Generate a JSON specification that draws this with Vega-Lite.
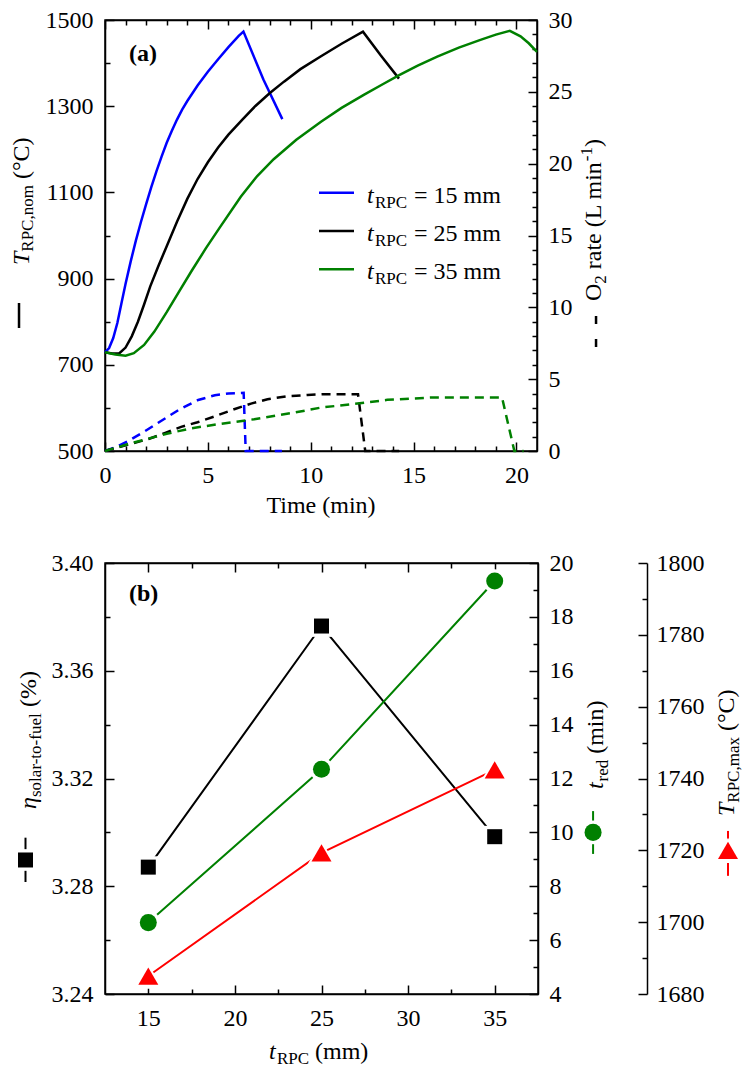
{
  "$schema": "https://vega.github.io/schema/vega-lite/v6.json",
  "padding": {"left": 9, "top": 7, "right": 5, "bottom": 5},
  "bounds": "flush",
  "spacing": 112,
  "config": {
    "view": {"stroke": "#000", "strokeWidth": 1.5},
    "axis": {"labelFont": "Liberation Serif", "labelFontSize": 24, "labelColor": "#000", "domainColor": "#000", "domainWidth": 1.5, "tickColor": "#000", "tickWidth": 1.5, "grid": false, "labelFlush": false, "labelOverlap": false, "labelBound": false},
    "text": {"font": "Liberation Serif", "fontSize": 24, "color": "#000", "baseline": "alphabetic", "align": "left"}
  },
  "datasets": {
    "one": [{}],
    "temp": [
      {"series": "15 mm", "time": 0, "T": 729}, {"series": "15 mm", "time": 0.2, "T": 739}, {"series": "15 mm", "time": 0.4, "T": 762}, {"series": "15 mm", "time": 0.6, "T": 797}, {"series": "15 mm", "time": 0.8, "T": 843}, {"series": "15 mm", "time": 1.0, "T": 888}, {"series": "15 mm", "time": 1.25, "T": 940}, {"series": "15 mm", "time": 1.5, "T": 988}, {"series": "15 mm", "time": 1.75, "T": 1032}, {"series": "15 mm", "time": 2.0, "T": 1073}, {"series": "15 mm", "time": 2.25, "T": 1112}, {"series": "15 mm", "time": 2.5, "T": 1149}, {"series": "15 mm", "time": 2.75, "T": 1183}, {"series": "15 mm", "time": 3.0, "T": 1215}, {"series": "15 mm", "time": 3.25, "T": 1243}, {"series": "15 mm", "time": 3.5, "T": 1269}, {"series": "15 mm", "time": 3.75, "T": 1292}, {"series": "15 mm", "time": 4.0, "T": 1312}, {"series": "15 mm", "time": 4.5, "T": 1348}, {"series": "15 mm", "time": 5.0, "T": 1380}, {"series": "15 mm", "time": 5.5, "T": 1409}, {"series": "15 mm", "time": 6.0, "T": 1437}, {"series": "15 mm", "time": 6.5, "T": 1463}, {"series": "15 mm", "time": 6.73, "T": 1473}, {"series": "15 mm", "time": 7.7, "T": 1362}, {"series": "15 mm", "time": 8.62, "T": 1270},
      {"series": "25 mm", "time": 0, "T": 729}, {"series": "25 mm", "time": 0.35, "T": 726}, {"series": "25 mm", "time": 0.7, "T": 727}, {"series": "25 mm", "time": 1.0, "T": 740}, {"series": "25 mm", "time": 1.3, "T": 766}, {"series": "25 mm", "time": 1.6, "T": 800}, {"series": "25 mm", "time": 1.9, "T": 840}, {"series": "25 mm", "time": 2.2, "T": 882}, {"series": "25 mm", "time": 2.6, "T": 930}, {"series": "25 mm", "time": 3.0, "T": 975}, {"series": "25 mm", "time": 3.5, "T": 1032}, {"series": "25 mm", "time": 4.0, "T": 1085}, {"series": "25 mm", "time": 4.5, "T": 1131}, {"series": "25 mm", "time": 5.0, "T": 1170}, {"series": "25 mm", "time": 5.5, "T": 1204}, {"series": "25 mm", "time": 6.0, "T": 1234}, {"series": "25 mm", "time": 6.7, "T": 1270}, {"series": "25 mm", "time": 7.3, "T": 1300}, {"series": "25 mm", "time": 8.0, "T": 1330}, {"series": "25 mm", "time": 8.7, "T": 1357}, {"series": "25 mm", "time": 9.5, "T": 1386}, {"series": "25 mm", "time": 10.5, "T": 1416}, {"series": "25 mm", "time": 11.5, "T": 1445}, {"series": "25 mm", "time": 12.54, "T": 1473}, {"series": "25 mm", "time": 13.4, "T": 1418}, {"series": "25 mm", "time": 14.29, "T": 1364},
      {"series": "35 mm", "time": 0, "T": 729}, {"series": "35 mm", "time": 0.5, "T": 724}, {"series": "35 mm", "time": 1.0, "T": 721}, {"series": "35 mm", "time": 1.4, "T": 727}, {"series": "35 mm", "time": 1.9, "T": 746}, {"series": "35 mm", "time": 2.4, "T": 777}, {"series": "35 mm", "time": 3.0, "T": 822}, {"series": "35 mm", "time": 3.6, "T": 870}, {"series": "35 mm", "time": 4.2, "T": 917}, {"series": "35 mm", "time": 4.9, "T": 970}, {"series": "35 mm", "time": 5.6, "T": 1020}, {"series": "35 mm", "time": 6.6, "T": 1090}, {"series": "35 mm", "time": 7.4, "T": 1138}, {"series": "35 mm", "time": 8.2, "T": 1177}, {"series": "35 mm", "time": 9.3, "T": 1222}, {"series": "35 mm", "time": 10.5, "T": 1264}, {"series": "35 mm", "time": 11.5, "T": 1296}, {"series": "35 mm", "time": 12.6, "T": 1327}, {"series": "35 mm", "time": 13.5, "T": 1351}, {"series": "35 mm", "time": 14.3, "T": 1372}, {"series": "35 mm", "time": 15.2, "T": 1394}, {"series": "35 mm", "time": 16.15, "T": 1415}, {"series": "35 mm", "time": 17.2, "T": 1436}, {"series": "35 mm", "time": 18.25, "T": 1454}, {"series": "35 mm", "time": 19.0, "T": 1466}, {"series": "35 mm", "time": 19.68, "T": 1475}, {"series": "35 mm", "time": 20.2, "T": 1462}, {"series": "35 mm", "time": 20.6, "T": 1446}, {"series": "35 mm", "time": 21.0, "T": 1426}
    ],
    "o2": [
      {"series": "15 mm", "time": 0, "rate": 0}, {"series": "15 mm", "time": 0.5, "rate": 0.25}, {"series": "15 mm", "time": 1.14, "rate": 0.7}, {"series": "15 mm", "time": 1.91, "rate": 1.35}, {"series": "15 mm", "time": 2.8, "rate": 2.16}, {"series": "15 mm", "time": 3.64, "rate": 2.91}, {"series": "15 mm", "time": 4.53, "rate": 3.55}, {"series": "15 mm", "time": 5.34, "rate": 3.88}, {"series": "15 mm", "time": 6.0, "rate": 4.0}, {"series": "15 mm", "time": 6.74, "rate": 4.05}, {"series": "15 mm", "time": 6.84, "rate": 0}, {"series": "15 mm", "time": 8.6, "rate": 0},
      {"series": "25 mm", "time": 0, "rate": 0}, {"series": "25 mm", "time": 1.0, "rate": 0.4}, {"series": "25 mm", "time": 2.15, "rate": 0.85}, {"series": "25 mm", "time": 2.96, "rate": 1.28}, {"series": "25 mm", "time": 3.7, "rate": 1.68}, {"series": "25 mm", "time": 4.5, "rate": 2.0}, {"series": "25 mm", "time": 5.39, "rate": 2.44}, {"series": "25 mm", "time": 6.28, "rate": 2.91}, {"series": "25 mm", "time": 7.1, "rate": 3.3}, {"series": "25 mm", "time": 7.9, "rate": 3.6}, {"series": "25 mm", "time": 8.8, "rate": 3.8}, {"series": "25 mm", "time": 9.84, "rate": 3.9}, {"series": "25 mm", "time": 10.6, "rate": 3.95}, {"series": "25 mm", "time": 12.3, "rate": 3.95}, {"series": "25 mm", "time": 12.65, "rate": 0}, {"series": "25 mm", "time": 14.3, "rate": 0},
      {"series": "35 mm", "time": 0, "rate": 0}, {"series": "35 mm", "time": 1.1, "rate": 0.47}, {"series": "35 mm", "time": 2.0, "rate": 0.82}, {"series": "35 mm", "time": 3.0, "rate": 1.2}, {"series": "35 mm", "time": 4.2, "rate": 1.58}, {"series": "35 mm", "time": 5.47, "rate": 1.86}, {"series": "35 mm", "time": 7.25, "rate": 2.21}, {"series": "35 mm", "time": 9.19, "rate": 2.67}, {"series": "35 mm", "time": 10.49, "rate": 3.02}, {"series": "35 mm", "time": 12.27, "rate": 3.3}, {"series": "35 mm", "time": 13.72, "rate": 3.56}, {"series": "35 mm", "time": 15.83, "rate": 3.72}, {"series": "35 mm", "time": 19.3, "rate": 3.72}, {"series": "35 mm", "time": 19.9, "rate": 0}, {"series": "35 mm", "time": 20.35, "rate": 0}
    ],
    "eff": [
      {"t_rpc": 15, "eta": 3.2871, "t_red": 6.65, "T_max": 1685.0},
      {"t_rpc": 25, "eta": 3.3766, "t_red": 12.34, "T_max": 1719.3},
      {"t_rpc": 35, "eta": 3.2984, "t_red": 19.33, "T_max": 1742.4}
    ]
  },
  "vconcat": [
    {
      "width": 432,
      "height": 431,
      "layer": [
        {
          "data": {"name": "temp"},
          "mark": {"type": "line", "strokeWidth": 2.5},
          "encoding": {
            "x": {"field": "time", "type": "quantitative", "scale": {"domain": [0, 21], "nice": false, "zero": false},
              "axis": {"orient": "bottom", "title": null, "values": [0,1,2,3,4,5,6,7,8,9,10,11,12,13,14,15,16,17,18,19,20], "labelExpr": "datum.value % 5 === 0 ? datum.label : ''", "tickSize": -9, "tickDash": {"condition": {"test": "datum.value % 5 === 0", "value": [9, 0]}, "value": [5, 20]}, "labelPadding": 21}},
            "y": {"field": "T", "type": "quantitative", "scale": {"domain": [500, 1500], "nice": false, "zero": false},
              "axis": {"orient": "left", "title": null, "values": [500,600,700,800,900,1000,1100,1200,1300,1400,1500], "format": "d", "labelExpr": "(datum.value - 500) % 200 === 0 ? datum.label : ''", "tickSize": -9, "tickDash": {"condition": {"test": "(datum.value - 500) % 200 === 0", "value": [9, 0]}, "value": [5, 20]}, "labelPadding": 21}},
            "color": {"field": "series", "type": "nominal", "scale": {"domain": ["15 mm", "25 mm", "35 mm"], "range": ["#0000ff", "#000000", "#008000"]}, "legend": null}
          }
        },
        {
          "data": {"name": "o2"},
          "mark": {"type": "line", "strokeWidth": 2.5, "strokeDash": [9, 6]},
          "encoding": {
            "x": {"field": "time", "type": "quantitative", "scale": {"domain": [0, 21], "nice": false, "zero": false},
              "axis": {"orient": "top", "title": null, "values": [0,1,2,3,4,5,6,7,8,9,10,11,12,13,14,15,16,17,18,19,20], "labels": false, "tickSize": -9, "tickDash": {"condition": {"test": "datum.value % 5 === 0", "value": [9, 0]}, "value": [5, 20]}}},
            "y": {"field": "rate", "type": "quantitative", "scale": {"domain": [0, 30], "nice": false, "zero": false},
              "axis": {"orient": "right", "title": null, "values": [0,1,2,3,4,5,6,7,8,9,10,11,12,13,14,15,16,17,18,19,20,21,22,23,24,25,26,27,28,29,30], "labelExpr": "datum.value % 5 === 0 ? datum.label : ''", "tickSize": -9, "tickDash": {"condition": {"test": "datum.value % 5 === 0", "value": [9, 0]}, "value": [5, 20]}, "labelPadding": 20}},
            "color": {"field": "series", "type": "nominal", "legend": null}
          }
        },
        {"data": {"name": "one"}, "mark": {"type": "rule", "strokeWidth": 2.5, "color": "#0000ff"}, "encoding": {"x": {"datum": 10.403, "axis": null}, "x2": {"datum": 12.104}, "y": {"datum": 1099.3, "axis": null, "scale": {"domain": [500, 1500], "nice": false, "zero": false}}}},
        {"data": {"name": "one"}, "mark": {"type": "rule", "strokeWidth": 2.5, "color": "#000000"}, "encoding": {"x": {"datum": 10.403, "axis": null}, "x2": {"datum": 12.104}, "y": {"datum": 1010.4, "axis": null, "scale": {"domain": [500, 1500], "nice": false, "zero": false}}}},
        {"data": {"name": "one"}, "mark": {"type": "rule", "strokeWidth": 2.5, "color": "#008000"}, "encoding": {"x": {"datum": 10.403, "axis": null}, "x2": {"datum": 12.104}, "y": {"datum": 921.6, "axis": null, "scale": {"domain": [500, 1500], "nice": false, "zero": false}}}},
        {"data": {"name": "one"}, "mark": {"type": "text", "text": "t", "fontStyle": "italic", "dy": 10}, "encoding": {"x": {"datum": 12.736, "axis": null}, "y": {"datum": 1099.3, "axis": null, "scale": {"domain": [500, 1500], "nice": false, "zero": false}}}},
        {"data": {"name": "one"}, "mark": {"type": "text", "text": "RPC", "fontSize": 17, "dx": 8, "dy": 15}, "encoding": {"x": {"datum": 12.736, "axis": null}, "y": {"datum": 1099.3, "axis": null, "scale": {"domain": [500, 1500], "nice": false, "zero": false}}}},
        {"data": {"name": "one"}, "mark": {"type": "text", "text": "= 15 mm", "dx": 47, "dy": 10}, "encoding": {"x": {"datum": 12.736, "axis": null}, "y": {"datum": 1099.3, "axis": null, "scale": {"domain": [500, 1500], "nice": false, "zero": false}}}},
        {"data": {"name": "one"}, "mark": {"type": "text", "text": "t", "fontStyle": "italic", "dy": 10}, "encoding": {"x": {"datum": 12.736, "axis": null}, "y": {"datum": 1010.4, "axis": null, "scale": {"domain": [500, 1500], "nice": false, "zero": false}}}},
        {"data": {"name": "one"}, "mark": {"type": "text", "text": "RPC", "fontSize": 17, "dx": 8, "dy": 15}, "encoding": {"x": {"datum": 12.736, "axis": null}, "y": {"datum": 1010.4, "axis": null, "scale": {"domain": [500, 1500], "nice": false, "zero": false}}}},
        {"data": {"name": "one"}, "mark": {"type": "text", "text": "= 25 mm", "dx": 47, "dy": 10}, "encoding": {"x": {"datum": 12.736, "axis": null}, "y": {"datum": 1010.4, "axis": null, "scale": {"domain": [500, 1500], "nice": false, "zero": false}}}},
        {"data": {"name": "one"}, "mark": {"type": "text", "text": "t", "fontStyle": "italic", "dy": 10}, "encoding": {"x": {"datum": 12.736, "axis": null}, "y": {"datum": 921.6, "axis": null, "scale": {"domain": [500, 1500], "nice": false, "zero": false}}}},
        {"data": {"name": "one"}, "mark": {"type": "text", "text": "RPC", "fontSize": 17, "dx": 8, "dy": 15}, "encoding": {"x": {"datum": 12.736, "axis": null}, "y": {"datum": 921.6, "axis": null, "scale": {"domain": [500, 1500], "nice": false, "zero": false}}}},
        {"data": {"name": "one"}, "mark": {"type": "text", "text": "= 35 mm", "dx": 47, "dy": 10}, "encoding": {"x": {"datum": 12.736, "axis": null}, "y": {"datum": 921.6, "axis": null, "scale": {"domain": [500, 1500], "nice": false, "zero": false}}}},
        {"data": {"name": "one"}, "mark": {"type": "text", "text": "(a)", "fontWeight": "bold"}, "encoding": {"x": {"datum": 1.167, "axis": null}, "y": {"datum": 1404.9, "axis": null, "scale": {"domain": [500, 1500], "nice": false, "zero": false}}}},
        {"data": {"name": "one"}, "mark": {"type": "text", "text": "Time (min)", "align": "center"}, "encoding": {"x": {"datum": 10.5, "axis": null}, "y": {"datum": 357, "axis": null, "scale": {"domain": [500, 1500], "nice": false, "zero": false}}}},
        {"data": {"name": "one"}, "mark": {"type": "rule", "strokeWidth": 2.5, "color": "#000"}, "encoding": {"x": {"datum": -4.18, "axis": null}, "y": {"datum": 843.4, "axis": null, "scale": {"domain": [500, 1500], "nice": false, "zero": false}}, "y2": {"datum": 785.4}}},
        {"data": {"name": "one"}, "mark": {"type": "text", "text": "T", "angle": 270, "fontStyle": "italic"}, "encoding": {"x": {"datum": -3.695, "axis": null}, "y": {"datum": 931.6, "axis": null, "scale": {"domain": [500, 1500], "nice": false, "zero": false}}}},
        {"data": {"name": "one"}, "mark": {"type": "text", "text": "RPC,nom", "angle": 270, "fontSize": 17, "dx": 13.3, "dy": 4}, "encoding": {"x": {"datum": -3.695, "axis": null}, "y": {"datum": 931.6, "axis": null, "scale": {"domain": [500, 1500], "nice": false, "zero": false}}}},
        {"data": {"name": "one"}, "mark": {"type": "text", "text": "(°C)", "angle": 270, "dx": 85.9}, "encoding": {"x": {"datum": -3.695, "axis": null}, "y": {"datum": 931.6, "axis": null, "scale": {"domain": [500, 1500], "nice": false, "zero": false}}}},
        {"data": {"name": "one"}, "mark": {"type": "rule", "strokeWidth": 2.5, "color": "#000", "strokeDash": [8, 15]}, "encoding": {"x": {"datum": 23.87, "axis": null}, "y": {"datum": 9.40, "axis": null, "scale": {"domain": [0, 30], "nice": false, "zero": false}}, "y2": {"datum": 7.17}}},
        {"data": {"name": "one"}, "mark": {"type": "text", "text": "O", "angle": 270}, "encoding": {"x": {"datum": 24.112, "axis": null}, "y": {"datum": 10.44, "axis": null, "scale": {"domain": [0, 30], "nice": false, "zero": false}}}},
        {"data": {"name": "one"}, "mark": {"type": "text", "text": "2", "angle": 270, "fontSize": 17, "dx": 17.3, "dy": 5}, "encoding": {"x": {"datum": 24.112, "axis": null}, "y": {"datum": 10.44, "axis": null, "scale": {"domain": [0, 30], "nice": false, "zero": false}}}},
        {"data": {"name": "one"}, "mark": {"type": "text", "text": "rate (L min", "angle": 270, "dx": 31.8}, "encoding": {"x": {"datum": 24.112, "axis": null}, "y": {"datum": 10.44, "axis": null, "scale": {"domain": [0, 30], "nice": false, "zero": false}}}},
        {"data": {"name": "one"}, "mark": {"type": "text", "text": "-1", "angle": 270, "fontSize": 17, "dx": 139.8, "dy": -9}, "encoding": {"x": {"datum": 24.112, "axis": null}, "y": {"datum": 10.44, "axis": null, "scale": {"domain": [0, 30], "nice": false, "zero": false}}}},
        {"data": {"name": "one"}, "mark": {"type": "text", "text": ")", "angle": 270, "dx": 154}, "encoding": {"x": {"datum": 24.112, "axis": null}, "y": {"datum": 10.44, "axis": null, "scale": {"domain": [0, 30], "nice": false, "zero": false}}}}
      ],
      "resolve": {"scale": {"y": "independent"}, "axis": {"x": "independent", "y": "independent"}}
    },
    {
      "width": 433,
      "height": 431,
      "layer": [
        {
          "data": {"name": "eff"},
          "mark": {"type": "line", "strokeWidth": 2, "color": "#000"},
          "encoding": {
            "x": {"field": "t_rpc", "type": "quantitative", "scale": {"domain": [12.5, 37.5], "nice": false, "zero": false},
              "axis": {"orient": "bottom", "title": null, "values": [15, 17.5, 20, 22.5, 25, 27.5, 30, 32.5, 35], "labelExpr": "datum.value % 5 === 0 ? datum.label : ''", "tickSize": -9, "tickDash": {"condition": {"test": "datum.value % 5 === 0", "value": [9, 0]}, "value": [5, 20]}, "labelPadding": 21}},
            "y": {"field": "eta", "type": "quantitative", "scale": {"domain": [3.24, 3.40], "nice": false, "zero": false},
              "axis": {"orient": "left", "title": null, "values": [3.24, 3.26, 3.28, 3.30, 3.32, 3.34, 3.36, 3.38, 3.40], "format": ".2f", "labelExpr": "round(datum.value * 100) % 4 === 0 ? datum.label : ''", "tickSize": -9, "tickDash": {"condition": {"test": "round(datum.value * 100) % 4 === 0", "value": [9, 0]}, "value": [5, 20]}, "labelPadding": 21}}
          }
        },
        {
          "data": {"name": "eff"},
          "mark": {"type": "line", "strokeWidth": 2, "color": "#008000"},
          "encoding": {
            "x": {"field": "t_rpc", "type": "quantitative", "scale": {"domain": [12.5, 37.5], "nice": false, "zero": false},
              "axis": {"orient": "top", "title": null, "values": [15, 17.5, 20, 22.5, 25, 27.5, 30, 32.5, 35], "labels": false, "tickSize": -9, "tickDash": {"condition": {"test": "datum.value % 5 === 0", "value": [9, 0]}, "value": [5, 20]}}},
            "y": {"field": "t_red", "type": "quantitative", "scale": {"domain": [4, 20], "nice": false, "zero": false},
              "axis": {"orient": "right", "title": null, "values": [4,5,6,7,8,9,10,11,12,13,14,15,16,17,18,19,20], "labelExpr": "datum.value % 2 === 0 ? datum.label : ''", "tickSize": -9, "tickDash": {"condition": {"test": "datum.value % 2 === 0", "value": [9, 0]}, "value": [5, 20]}, "labelPadding": 20}}
          }
        },
        {
          "data": {"name": "eff"},
          "mark": {"type": "line", "strokeWidth": 2, "color": "#ff0000"},
          "encoding": {
            "x": {"field": "t_rpc", "type": "quantitative", "axis": null},
            "y": {"field": "T_max", "type": "quantitative", "scale": {"domain": [1680, 1800], "nice": false, "zero": false},
              "axis": {"orient": "right", "offset": 109, "title": null, "values": [1680,1690,1700,1710,1720,1730,1740,1750,1760,1770,1780,1790,1800], "format": "d", "labelExpr": "datum.value % 20 === 0 ? datum.label : ''", "tickSize": -9, "tickDash": {"condition": {"test": "datum.value % 20 === 0", "value": [9, 0]}, "value": [5, 20]}, "labelPadding": 18}}
          }
        },
        {"data": {"name": "eff"}, "mark": {"type": "point", "shape": "square", "filled": true, "opacity": 1, "size": 470, "color": "#fff"}, "encoding": {"x": {"field": "t_rpc", "type": "quantitative", "axis": null}, "y": {"field": "eta", "type": "quantitative", "axis": null, "scale": {"domain": [3.24, 3.40], "nice": false, "zero": false}}}},
        {"data": {"name": "eff"}, "mark": {"type": "point", "shape": "square", "filled": true, "opacity": 1, "size": 225, "color": "#000"}, "encoding": {"x": {"field": "t_rpc", "type": "quantitative", "axis": null}, "y": {"field": "eta", "type": "quantitative", "axis": null, "scale": {"domain": [3.24, 3.40], "nice": false, "zero": false}}}},
        {"data": {"name": "eff"}, "mark": {"type": "point", "shape": "circle", "filled": true, "opacity": 1, "size": 560, "color": "#fff"}, "encoding": {"x": {"field": "t_rpc", "type": "quantitative", "axis": null}, "y": {"field": "t_red", "type": "quantitative", "axis": null, "scale": {"domain": [4, 20], "nice": false, "zero": false}}}},
        {"data": {"name": "eff"}, "mark": {"type": "point", "shape": "circle", "filled": true, "opacity": 1, "size": 290, "color": "#008000"}, "encoding": {"x": {"field": "t_rpc", "type": "quantitative", "axis": null}, "y": {"field": "t_red", "type": "quantitative", "axis": null, "scale": {"domain": [4, 20], "nice": false, "zero": false}}}},
        {"data": {"name": "eff"}, "mark": {"type": "point", "shape": "triangle-up", "filled": true, "opacity": 1, "size": 850, "color": "#fff"}, "encoding": {"x": {"field": "t_rpc", "type": "quantitative", "axis": null}, "y": {"field": "T_max", "type": "quantitative", "axis": null, "scale": {"domain": [1680, 1800], "nice": false, "zero": false}}}},
        {"data": {"name": "eff"}, "mark": {"type": "point", "shape": "triangle-up", "filled": true, "opacity": 1, "size": 400, "color": "#ff0000"}, "encoding": {"x": {"field": "t_rpc", "type": "quantitative", "axis": null}, "y": {"field": "T_max", "type": "quantitative", "axis": null, "scale": {"domain": [1680, 1800], "nice": false, "zero": false}}}},
        {"data": {"name": "one"}, "mark": {"type": "text", "text": "(b)", "fontWeight": "bold"}, "encoding": {"x": {"datum": 13.886, "axis": null}, "y": {"datum": 3.3859, "axis": null, "scale": {"domain": [3.24, 3.40], "nice": false, "zero": false}}}},
        {"data": {"name": "one"}, "mark": {"type": "text", "text": "t", "fontStyle": "italic"}, "encoding": {"x": {"datum": 21.969, "axis": null}, "y": {"datum": 3.21587, "axis": null, "scale": {"domain": [3.24, 3.40], "nice": false, "zero": false}}}},
        {"data": {"name": "one"}, "mark": {"type": "text", "text": "RPC", "fontSize": 17, "dx": 8, "dy": 5}, "encoding": {"x": {"datum": 21.969, "axis": null}, "y": {"datum": 3.21587, "axis": null, "scale": {"domain": [3.24, 3.40], "nice": false, "zero": false}}}},
        {"data": {"name": "one"}, "mark": {"type": "text", "text": "(mm)", "dx": 46}, "encoding": {"x": {"datum": 21.969, "axis": null}, "y": {"datum": 3.21587, "axis": null, "scale": {"domain": [3.24, 3.40], "nice": false, "zero": false}}}},
        {"data": {"name": "one"}, "mark": {"type": "rule", "strokeWidth": 2, "color": "#000"}, "encoding": {"x": {"datum": 7.91, "axis": null}, "y": {"datum": 3.29803, "axis": null, "scale": {"domain": [3.24, 3.40], "nice": false, "zero": false}}, "y2": {"datum": 3.28158}}},
        {"data": {"name": "one"}, "mark": {"type": "point", "shape": "square", "filled": true, "opacity": 1, "size": 470, "color": "#fff"}, "encoding": {"x": {"datum": 7.91, "axis": null}, "y": {"datum": 3.28975, "axis": null, "scale": {"domain": [3.24, 3.40], "nice": false, "zero": false}}}},
        {"data": {"name": "one"}, "mark": {"type": "point", "shape": "square", "filled": true, "opacity": 1, "size": 225, "color": "#000"}, "encoding": {"x": {"datum": 7.91, "axis": null}, "y": {"datum": 3.28975, "axis": null, "scale": {"domain": [3.24, 3.40], "nice": false, "zero": false}}}},
        {"data": {"name": "one"}, "mark": {"type": "text", "text": "η", "angle": 270, "fontStyle": "italic"}, "encoding": {"x": {"datum": 8.516, "axis": null}, "y": {"datum": 3.30868, "axis": null, "scale": {"domain": [3.24, 3.40], "nice": false, "zero": false}}}},
        {"data": {"name": "one"}, "mark": {"type": "text", "text": "solar-to-fuel", "angle": 270, "fontSize": 17, "dx": 12, "dy": 5}, "encoding": {"x": {"datum": 8.516, "axis": null}, "y": {"datum": 3.30868, "axis": null, "scale": {"domain": [3.24, 3.40], "nice": false, "zero": false}}}},
        {"data": {"name": "one"}, "mark": {"type": "text", "text": "(%)", "angle": 270, "dx": 102}, "encoding": {"x": {"datum": 8.516, "axis": null}, "y": {"datum": 3.30868, "axis": null, "scale": {"domain": [3.24, 3.40], "nice": false, "zero": false}}}},
        {"data": {"name": "one"}, "mark": {"type": "rule", "strokeWidth": 2, "color": "#008000"}, "encoding": {"x": {"datum": 40.68, "axis": null}, "y": {"datum": 10.79, "axis": null, "scale": {"domain": [4, 20], "nice": false, "zero": false}}, "y2": {"datum": 9.2}}},
        {"data": {"name": "one"}, "mark": {"type": "point", "shape": "circle", "filled": true, "opacity": 1, "size": 560, "color": "#fff"}, "encoding": {"x": {"datum": 40.68, "axis": null}, "y": {"datum": 10.0, "axis": null, "scale": {"domain": [4, 20], "nice": false, "zero": false}}}},
        {"data": {"name": "one"}, "mark": {"type": "point", "shape": "circle", "filled": true, "opacity": 1, "size": 290, "color": "#008000"}, "encoding": {"x": {"datum": 40.68, "axis": null}, "y": {"datum": 10.0, "axis": null, "scale": {"domain": [4, 20], "nice": false, "zero": false}}}},
        {"data": {"name": "one"}, "mark": {"type": "text", "text": "t", "angle": 270, "fontStyle": "italic"}, "encoding": {"x": {"datum": 41.253, "axis": null}, "y": {"datum": 11.61, "axis": null, "scale": {"domain": [4, 20], "nice": false, "zero": false}}}},
        {"data": {"name": "one"}, "mark": {"type": "text", "text": "red", "angle": 270, "fontSize": 17, "dx": 7.5, "dy": 5}, "encoding": {"x": {"datum": 41.253, "axis": null}, "y": {"datum": 11.61, "axis": null, "scale": {"domain": [4, 20], "nice": false, "zero": false}}}},
        {"data": {"name": "one"}, "mark": {"type": "text", "text": "(min)", "angle": 270, "dx": 35.2}, "encoding": {"x": {"datum": 41.253, "axis": null}, "y": {"datum": 11.61, "axis": null, "scale": {"domain": [4, 20], "nice": false, "zero": false}}}},
        {"data": {"name": "one"}, "mark": {"type": "rule", "strokeWidth": 2, "color": "#ff0000"}, "encoding": {"x": {"datum": 48.47, "axis": null}, "y": {"datum": 1725.4, "axis": null, "scale": {"domain": [1680, 1800], "nice": false, "zero": false}}, "y2": {"datum": 1712.9}}},
        {"data": {"name": "one"}, "mark": {"type": "point", "shape": "triangle-up", "filled": true, "opacity": 1, "size": 850, "color": "#fff"}, "encoding": {"x": {"datum": 48.47, "axis": null}, "y": {"datum": 1720, "axis": null, "scale": {"domain": [1680, 1800], "nice": false, "zero": false}}}},
        {"data": {"name": "one"}, "mark": {"type": "point", "shape": "triangle-up", "filled": true, "opacity": 1, "size": 400, "color": "#ff0000"}, "encoding": {"x": {"datum": 48.47, "axis": null}, "y": {"datum": 1720, "axis": null, "scale": {"domain": [1680, 1800], "nice": false, "zero": false}}}},
        {"data": {"name": "one"}, "mark": {"type": "text", "text": "T", "angle": 270, "fontStyle": "italic"}, "encoding": {"x": {"datum": 48.817, "axis": null}, "y": {"datum": 1729.56, "axis": null, "scale": {"domain": [1680, 1800], "nice": false, "zero": false}}}},
        {"data": {"name": "one"}, "mark": {"type": "text", "text": "RPC,max", "angle": 270, "fontSize": 17, "dx": 13.3, "dy": 5}, "encoding": {"x": {"datum": 48.817, "axis": null}, "y": {"datum": 1729.56, "axis": null, "scale": {"domain": [1680, 1800], "nice": false, "zero": false}}}},
        {"data": {"name": "one"}, "mark": {"type": "text", "text": "(°C)", "angle": 270, "dx": 85}, "encoding": {"x": {"datum": 48.817, "axis": null}, "y": {"datum": 1729.56, "axis": null, "scale": {"domain": [1680, 1800], "nice": false, "zero": false}}}}
      ],
      "resolve": {"scale": {"y": "independent"}, "axis": {"x": "independent", "y": "independent"}}
    }
  ]
}
